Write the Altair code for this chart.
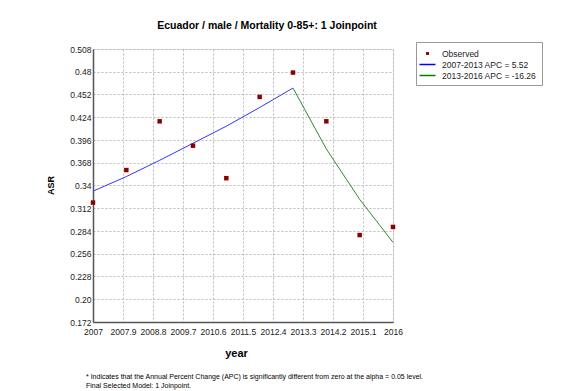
import altair as alt
import pandas as pd

# ---- data ----
obs_years = [2007, 2008, 2009, 2010, 2011, 2012, 2013, 2014, 2015, 2016]
obs_asr = [0.319, 0.359, 0.419, 0.389, 0.349, 0.449, 0.479, 0.419, 0.279, 0.289]

seg1_years = [2007, 2008, 2009, 2010, 2011, 2012, 2013]
seg1_fit = [0.333, 0.351, 0.371, 0.392, 0.413, 0.436, 0.460]

seg2_years = [2013, 2014, 2015, 2016]
seg2_fit = [0.460, 0.385, 0.323, 0.270]

series_names = ["Observed", "2007-2013 APC =  5.52", "2013-2016 APC = -16.26"]
series_colors = ["#8b0000", "#0000ff", "#008000"]

x_ticks = [2007, 2007.9, 2008.8, 2009.7, 2010.6, 2011.5, 2012.4, 2013.3, 2014.2, 2015.1, 2016]
x_labels = ["2007", "2007.9", "2008.8", "2009.7", "2010.6", "2011.5", "2012.4", "2013.3", "2014.2", "2015.1", "2016"]
y_ticks = [0.172, 0.2, 0.228, 0.256, 0.284, 0.312, 0.34, 0.368, 0.396, 0.424, 0.452, 0.48, 0.508]
y_labels = ["0.172", "0.20", "0.228", "0.256", "0.284", "0.312", "0.34", "0.368", "0.396", "0.424", "0.452", "0.48", "0.508"]

title_text = "Ecuador / male / Mortality 0-85+: 1 Joinpoint"
footnote = [
    "* Indicates that the Annual Percent Change (APC) is significantly different from zero at the alpha = 0.05 level.",
    "Final Selected Model: 1 Joinpoint.",
]

FONT = "Liberation Sans"

obs_df = pd.DataFrame({"year": obs_years, "asr": obs_asr, "series": [series_names[0]] * len(obs_years)})
s1_df = pd.DataFrame({"year": seg1_years, "asr": seg1_fit})
s2_df = pd.DataFrame({"year": seg2_years, "asr": seg2_fit})
note_df = pd.DataFrame({"n": [1]})


def lbl_expr(vals, labels):
    arr_v = "[" + ",".join(repr(v) for v in vals) + "]"
    arr_l = "[" + ",".join("'" + l + "'" for l in labels) + "]"
    return f"indexof({arr_v}, datum.value) >= 0 ? {arr_l}[indexof({arr_v}, datum.value)] : datum.label"


x_enc = alt.X(
    "year:Q",
    scale=alt.Scale(domain=[2007, 2016], nice=False, zero=False),
    axis=alt.Axis(
        values=x_ticks,
        labelExpr=lbl_expr(x_ticks, x_labels),
        title="year",
        titleFont=FONT,
        titleFontSize=11,
        titleFontWeight="bold",
        titleX=143,
        titleY=34,
        titleBaseline="alphabetic",
        titleColor="#000000",
        labelFont=FONT,
        labelFontSize=8.5,
        labelColor="#222222",
        labelPadding=5,
        ticks=False,
        grid=True,
        gridDash=[2, 2],
        gridColor="#bbbbbb",
        domainColor="#555555",
        domainWidth=1.5,
        labelFlush=False,
        labelOverlap=False,
    ),
)

y_enc = alt.Y(
    "asr:Q",
    scale=alt.Scale(domain=[0.172, 0.508], nice=False, zero=False),
    axis=alt.Axis(
        values=y_ticks,
        labelExpr=lbl_expr(y_ticks, y_labels),
        title="ASR",
        titleFont=FONT,
        titleFontSize=9,
        titleFontWeight="bold",
        titleX=-43,
        titleY=136,
        titleBaseline="middle",
        titleColor="#000000",
        labelFont=FONT,
        labelFontSize=8.5,
        labelColor="#222222",
        labelPadding=2,
        ticks=False,
        grid=True,
        gridDash=[2, 2],
        gridColor="#bbbbbb",
        domainColor="#555555",
        domainWidth=1.5,
        labelFlush=False,
        labelOverlap=False,
    ),
)

line1 = alt.Chart(s1_df).mark_line(strokeWidth=1, color="#3333ff").encode(x=x_enc, y=y_enc)
line2 = alt.Chart(s2_df).mark_line(strokeWidth=1, color="#2e8b2e").encode(x=x_enc, y=y_enc)

square_path = "M-0.13,-0.13H0.13V0.13H-0.13Z"
line_path = "M-1.45,0H1.45"

points = alt.Chart(obs_df).mark_point(filled=False, size=130, strokeWidth=3, opacity=1).encode(
    x=x_enc,
    y=y_enc,
    color=alt.Color(
        "series:N",
        scale=alt.Scale(domain=series_names, range=series_colors),
        legend=alt.Legend(
            title=None,
            orient="none",
            legendX=323,
            legendY=-7,
            padding=5,
            strokeColor="#999999",
            fillColor="#ffffff",
            symbolSize=121,
            symbolStrokeWidth=1.5,
            labelFont=FONT,
            labelFontSize=8.5,
            labelColor="#222222",
            labelOffset=8,
            rowPadding=0,
            labelLimit=300,
        ),
    ),
    shape=alt.Shape(
        "series:N",
        scale=alt.Scale(domain=series_names, range=[square_path, line_path, line_path]),
    ),
)

foot = alt.Chart(note_df).mark_text(
    align="left", baseline="middle", font=FONT, fontSize=7, color="#000000", lineHeight=9
).encode(x=alt.value(-7), y=alt.value(328), text=alt.value(footnote))

chart = (
    alt.layer(line1, line2, points, foot)
    .properties(
        width=300,
        height=273,
        padding={"left": 85, "top": 41, "right": 168, "bottom": 69},
        autosize=alt.AutoSizeParams(type="none"),
        title=alt.TitleParams(
            title_text,
            font=FONT,
            fontSize=10.5,
            fontWeight="bold",
            color="#000000",
            anchor="middle",
            frame="group",
            dx=24,
            offset=10,
        ),
    )
    .configure_view(stroke="#555555", strokeWidth=1.5)
    .configure_legend(strokeWidth=1.5)
    .configure(background="#ffffff")
)

chart.save("out.html", embed_options={"renderer": "svg", "actions": False})
